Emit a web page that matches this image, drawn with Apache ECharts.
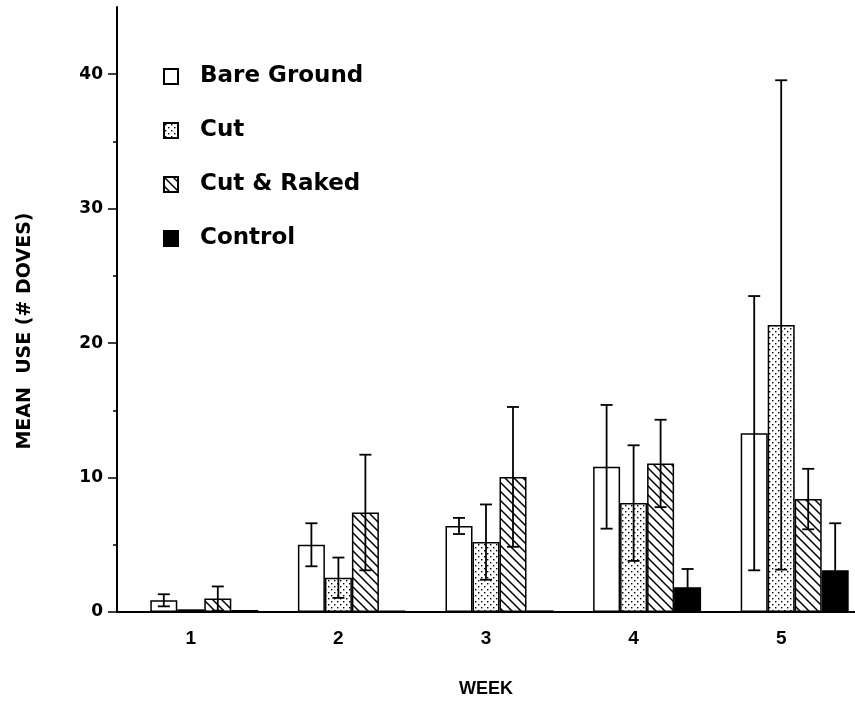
<!DOCTYPE html>
<html><head><meta charset="utf-8">
<script src="https://cdn.jsdelivr.net/npm/echarts@6/dist/echarts.min.js"></script>
<style>html,body{margin:0;padding:0;background:#fff}#c{width:855px;height:703px}</style>
</head><body><div id="c"></div>
<script>
// ---- data ----
const weeks = ['1', '2', '3', '4', '5'];
const seriesNames = ['Bare Ground', 'Cut', 'Cut & Raked', 'Control'];
const bareGround = [0.87, 5.0, 6.4, 10.8, 13.3];
const cut = [0.2, 2.55, 5.2, 8.1, 21.35];
const cutRaked = [1.0, 7.4, 10.05, 11.05, 8.4];
const control = [0.15, 0.1, 0.12, 1.85, 3.1];
const bareGroundErr = [0.45, 1.6, 0.6, 4.6, 10.2];
const cutErr = [0, 1.5, 2.8, 4.3, 18.2];
const cutRakedErr = [0.9, 4.3, 5.2, 3.25, 2.25];
const controlErr = [0, 0, 0, 1.35, 3.5];
const yMajorTicks = [0, 10, 20, 30, 40];
const yMinorTicks = [5, 15, 25, 35];
const yMax = 45;
const xTitle = 'WEEK';
const yTitle = 'MEAN  USE (# DOVES)';

// ---- styles ----
const BAR_W = 27;
function dotPattern() {
  const c = document.createElement('canvas'); c.width = 6; c.height = 6;
  const g = c.getContext('2d');
  g.fillStyle = '#fff'; g.fillRect(0, 0, 6, 6);
  g.fillStyle = '#000';
  g.fillRect(1, 1, 1.4, 1.4); g.fillRect(4, 4, 1.4, 1.4);
  return { image: c, repeat: 'repeat' };
}
function hatchPattern() {
  const p = 9;
  const c = document.createElement('canvas'); c.width = p; c.height = p;
  const g = c.getContext('2d');
  g.fillStyle = '#fff'; g.fillRect(0, 0, p, p);
  g.strokeStyle = '#000'; g.lineWidth = 1.5;
  g.beginPath();
  g.moveTo(-1, -1); g.lineTo(p + 1, p + 1);
  g.moveTo(-1, p - 1); g.lineTo(1, p + 1);
  g.moveTo(p - 1, -1); g.lineTo(p + 1, 1);
  g.stroke();
  return { image: c, repeat: 'repeat' };
}
const fills = ['#ffffff', dotPattern(), hatchPattern(), '#000000'];
const values = [bareGround, cut, cutRaked, control];
const errs = [bareGroundErr, cutErr, cutRakedErr, controlErr];

const errData = [];
values.forEach((arr, i) => arr.forEach((v, j) => {
  if (errs[i][j] > 0) errData.push([j, i, Math.max(0, v - errs[i][j]), v + errs[i][j]]);
}));

const boldSans = { fontFamily: 'Liberation Sans', fontWeight: 'bold', color: '#000' };
const boldDejavu = { fontFamily: 'DejaVu Sans', fontWeight: 'bold', color: '#000' };
const blackLine = { color: '#000', width: 1.5 };

const chart = echarts.init(document.getElementById('c'), null, { renderer: 'canvas' });
chart.setOption({
  animation: false,
  backgroundColor: '#fff',
  grid: [
    { left: 117, right: 0, top: 7, bottom: 88 },
    { left: 117, right: 0, top: 131, bottom: 172 }
  ],
  legend: {
    data: seriesNames, orient: 'vertical', left: 163, top: 65, padding: 0,
    itemWidth: 14, itemHeight: 15, itemGap: 31, icon: 'rect', selectedMode: false,
    textStyle: Object.assign({ fontSize: 23, lineHeight: 22, padding: [0, 0, 0, 17] }, boldDejavu)
  },
  xAxis: [
    {
      type: 'category', gridIndex: 0, data: weeks, boundaryGap: true,
      axisLine: { lineStyle: { color: '#000', width: 2 } },
      axisTick: { alignWithLabel: true, length: 7, lineStyle: blackLine },
      axisLabel: Object.assign({ fontSize: 19, margin: 17 }, boldSans),
      name: xTitle, nameLocation: 'middle', nameGap: 68,
      nameTextStyle: Object.assign({ fontSize: 18 }, boldSans),
      splitLine: { show: false }
    },
    { type: 'value', gridIndex: 1, show: false }
  ],
  yAxis: [
    {
      type: 'value', gridIndex: 0, min: 0, max: yMax, interval: 10,
      axisLine: { show: true, lineStyle: { color: '#000', width: 2 } },
      axisTick: { show: true, length: 9, customValues: yMajorTicks, lineStyle: blackLine },
      axisLabel: Object.assign({ fontSize: 17, margin: 14, customValues: yMajorTicks }, boldDejavu),
      splitLine: { show: false }
    },
    {
      type: 'value', gridIndex: 0, min: 0, max: yMax, interval: 5, position: 'left',
      axisLine: { show: false },
      axisTick: { show: true, length: 4, customValues: yMinorTicks, lineStyle: blackLine },
      axisLabel: { show: false },
      splitLine: { show: false }
    },
    {
      type: 'value', gridIndex: 1,
      axisLine: { show: false }, axisTick: { show: false }, axisLabel: { show: false },
      splitLine: { show: false },
      name: yTitle, nameLocation: 'middle', nameGap: 82,
      nameTextStyle: Object.assign({ fontSize: 19 }, boldDejavu)
    }
  ],
  series: [
    { type: 'bar', name: '_slot', xAxisIndex: 0, yAxisIndex: 0, data: weeks.map(() => '-'), barWidth: BAR_W, barGap: '0%', silent: true }
  ].concat(seriesNames.map((name, i) => ({
    type: 'bar', name: name, xAxisIndex: 0, yAxisIndex: 0, data: values[i],
    barWidth: BAR_W, barGap: '0%', silent: true,
    itemStyle: { color: fills[i], borderColor: '#000', borderWidth: 1.5 }
  }))).concat([{
    type: 'custom', xAxisIndex: 0, yAxisIndex: 0, data: errData, z: 10, silent: true,
    encode: { x: 0, y: [2, 3] },
    renderItem: function (params, api) {
      const j = api.value(0), i = api.value(1);
      const x = api.coord([j, 0])[0] + (i - 1) * BAR_W;
      const yLo = api.coord([j, api.value(2)])[1];
      const yHi = api.coord([j, api.value(3)])[1];
      const hw = 6;
      const st = { stroke: '#000', lineWidth: 1.8 };
      return {
        type: 'group', children: [
          { type: 'line', shape: { x1: x, y1: yLo, x2: x, y2: yHi }, style: st },
          { type: 'line', shape: { x1: x - hw, y1: yHi, x2: x + hw, y2: yHi }, style: st },
          { type: 'line', shape: { x1: x - hw, y1: yLo, x2: x + hw, y2: yLo }, style: st }
        ]
      };
    }
  }])
});
</script>
</body></html>
